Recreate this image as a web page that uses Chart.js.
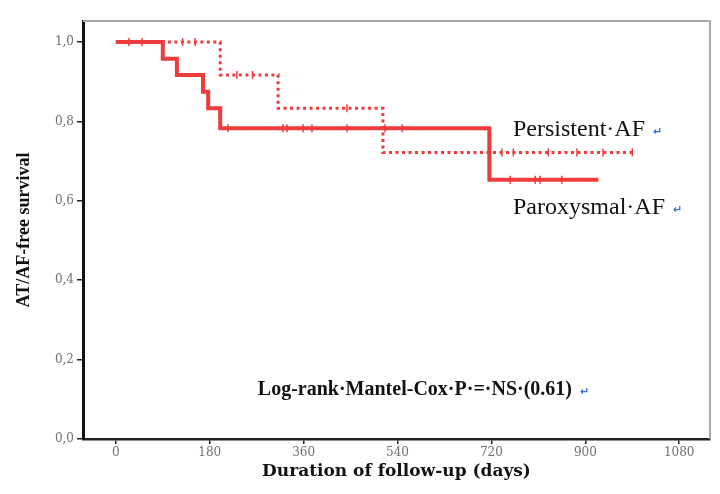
<!DOCTYPE html>
<html>
<head>
<meta charset="utf-8">
<script src="https://cdn.jsdelivr.net/npm/chart.js@4/dist/chart.umd.min.js"></script>
<style>
  html, body { margin: 0; padding: 0; background: #fff; }
  #wrap { width: 720px; height: 494px; }
</style>
</head>
<body>
<div id="wrap"><canvas id="km"></canvas></div>
<script>
// Kaplan-Meier steps (days, survival)
const paroxTimes = [0, 90, 117, 167, 177, 200, 716, 925];
const paroxSurv  = [1.0, 0.958, 0.917, 0.875, 0.833, 0.783, 0.653, 0.653];
const persTimes  = [0, 200, 311, 512, 990];
const persSurv   = [1.0, 0.917, 0.833, 0.722, 0.722];

// censored observations (tick marks)
const paroxCensorTimes = [25, 50, 215, 320, 328, 359, 376, 443, 516, 549, 756, 804, 813, 855];
const paroxCensorSurv  = [1.0, 1.0, 0.783, 0.783, 0.783, 0.783, 0.783, 0.783, 0.783, 0.783, 0.653, 0.653, 0.653, 0.653];
const persCensorTimes  = [128, 152, 232, 262, 443, 740, 762, 829, 884, 934, 990];
const persCensorSurv   = [1.0, 1.0, 0.917, 0.917, 0.833, 0.722, 0.722, 0.722, 0.722, 0.722, 0.722];

const xTicks = [0, 180, 360, 540, 720, 900, 1080];
const yTicks = [0, 0.2, 0.4, 0.6, 0.8, 1.0];

const red = '#ee3b3b';

function pts(xs, ys) {
    return xs.map((x, i) => ({ x: x, y: ys[i] }));
}

// box + annotation texts
const decor = {
    id: 'decor',
    beforeDatasetsDraw(chart) {
        const { ctx, chartArea: a } = chart;
        ctx.save();
        ctx.strokeStyle = '#a8a8a8';
        ctx.lineWidth = 2;
        ctx.beginPath();
        ctx.moveTo(a.left, a.top);
        ctx.lineTo(a.right, a.top);
        ctx.lineTo(a.right, a.bottom);
        ctx.stroke();
        ctx.restore();
    },
    afterDraw(chart) {
        const { ctx } = chart;
        ctx.save();
        ctx.fillStyle = '#111';
        ctx.textBaseline = 'middle';
        ctx.textAlign = 'left';
        ctx.font = '24px "Liberation Serif"';
        ctx.fillText('Persistent\u00b7AF', 513, 130);
        const w1 = ctx.measureText('Persistent\u00b7AF').width;
        ctx.fillText('Paroxysmal\u00b7AF', 513, 208);
        const w2 = ctx.measureText('Paroxysmal\u00b7AF').width;
        ctx.font = 'bold 20px "Liberation Serif"';
        ctx.textAlign = 'right';
        ctx.fillText('Log-rank\u00b7Mantel-Cox\u00b7P\u00b7=\u00b7NS\u00b7(0.61)', 572, 390);
        ctx.fillStyle = '#2f6fe0';
        ctx.textAlign = 'left';
        ctx.font = 'bold 11px "DejaVu Sans"';
        ctx.fillText('\u21b5', 513 + w1 + 8, 132);
        ctx.fillText('\u21b5', 513 + w2 + 8, 210);
        ctx.fillText('\u21b5', 580, 392);
        ctx.restore();
    }
};

const ctx = document.getElementById('km').getContext('2d');
new Chart(ctx, {
    type: 'scatter',
    data: {
        datasets: [
            {
                label: 'Paroxysmal AF',
                data: pts(paroxTimes, paroxSurv),
                showLine: true,
                stepped: 'before',
                borderColor: red,
                borderWidth: 4,
                pointRadius: 0
            },
            {
                label: 'Persistent AF',
                data: pts(persTimes, persSurv),
                showLine: true,
                stepped: 'before',
                borderColor: red,
                borderWidth: 3,
                borderDash: [3, 3.5],
                pointRadius: 0
            },
            {
                label: 'Paroxysmal censored',
                data: pts(paroxCensorTimes, paroxCensorSurv),
                showLine: false,
                pointStyle: 'line',
                rotation: 90,
                pointRadius: 4,
                borderColor: red,
                borderWidth: 1.5
            },
            {
                label: 'Persistent censored',
                data: pts(persCensorTimes, persCensorSurv),
                showLine: false,
                pointStyle: 'line',
                rotation: 90,
                pointRadius: 4,
                borderColor: red,
                borderWidth: 1.5
            }
        ]
    },
    options: {
        responsive: true,
        maintainAspectRatio: false,
        animation: false,
        layout: { padding: { top: 21, right: 10, left: 0, bottom: 0 } },
        plugins: {
            legend: { display: false },
            tooltip: { enabled: false }
        },
        scales: {
            x: {
                type: 'linear',
                min: -63,
                max: 1139,
                afterBuildTicks: (scale) => { scale.ticks = xTicks.map((v) => ({ value: v })); },
                afterFit: (scale) => { scale.height = 55; },
                border: { color: '#222', width: 2.5 },
                grid: { drawOnChartArea: false, drawTicks: true, tickLength: 5, color: '#222', lineWidth: 1.5 },
                ticks: {
                    color: '#707070',
                    font: { family: 'DejaVu Serif', size: 12 },
                    padding: 2,
                    maxRotation: 0,
                    callback: (v) => String(v)
                },
                title: {
                    display: true,
                    text: 'Duration of follow-up (days)',
                    color: '#111',
                    font: { family: 'DejaVu Serif', size: 17, weight: 'bold' },
                    padding: { top: 0, bottom: 12 }
                }
            },
            y: {
                min: 0,
                max: 1.053,
                afterBuildTicks: (scale) => { scale.ticks = yTicks.map((v) => ({ value: v })); },
                afterFit: (scale) => { scale.width = 83; },
                border: { color: '#111', width: 3 },
                grid: { drawOnChartArea: false, drawTicks: true, tickLength: 6, color: '#222', lineWidth: 1.5 },
                ticks: {
                    color: '#707070',
                    font: { family: 'DejaVu Serif', size: 12 },
                    padding: 3,
                    callback: (v) => v.toFixed(1).replace('.', ',')
                },
                title: {
                    display: true,
                    text: 'AT/AF-free survival',
                    color: '#111',
                    font: { family: 'Liberation Serif', size: 18, weight: 'bold' },
                    padding: { top: 14, bottom: 0 }
                }
            }
        }
    },
    plugins: [decor]
});
</script>
</body>
</html>
